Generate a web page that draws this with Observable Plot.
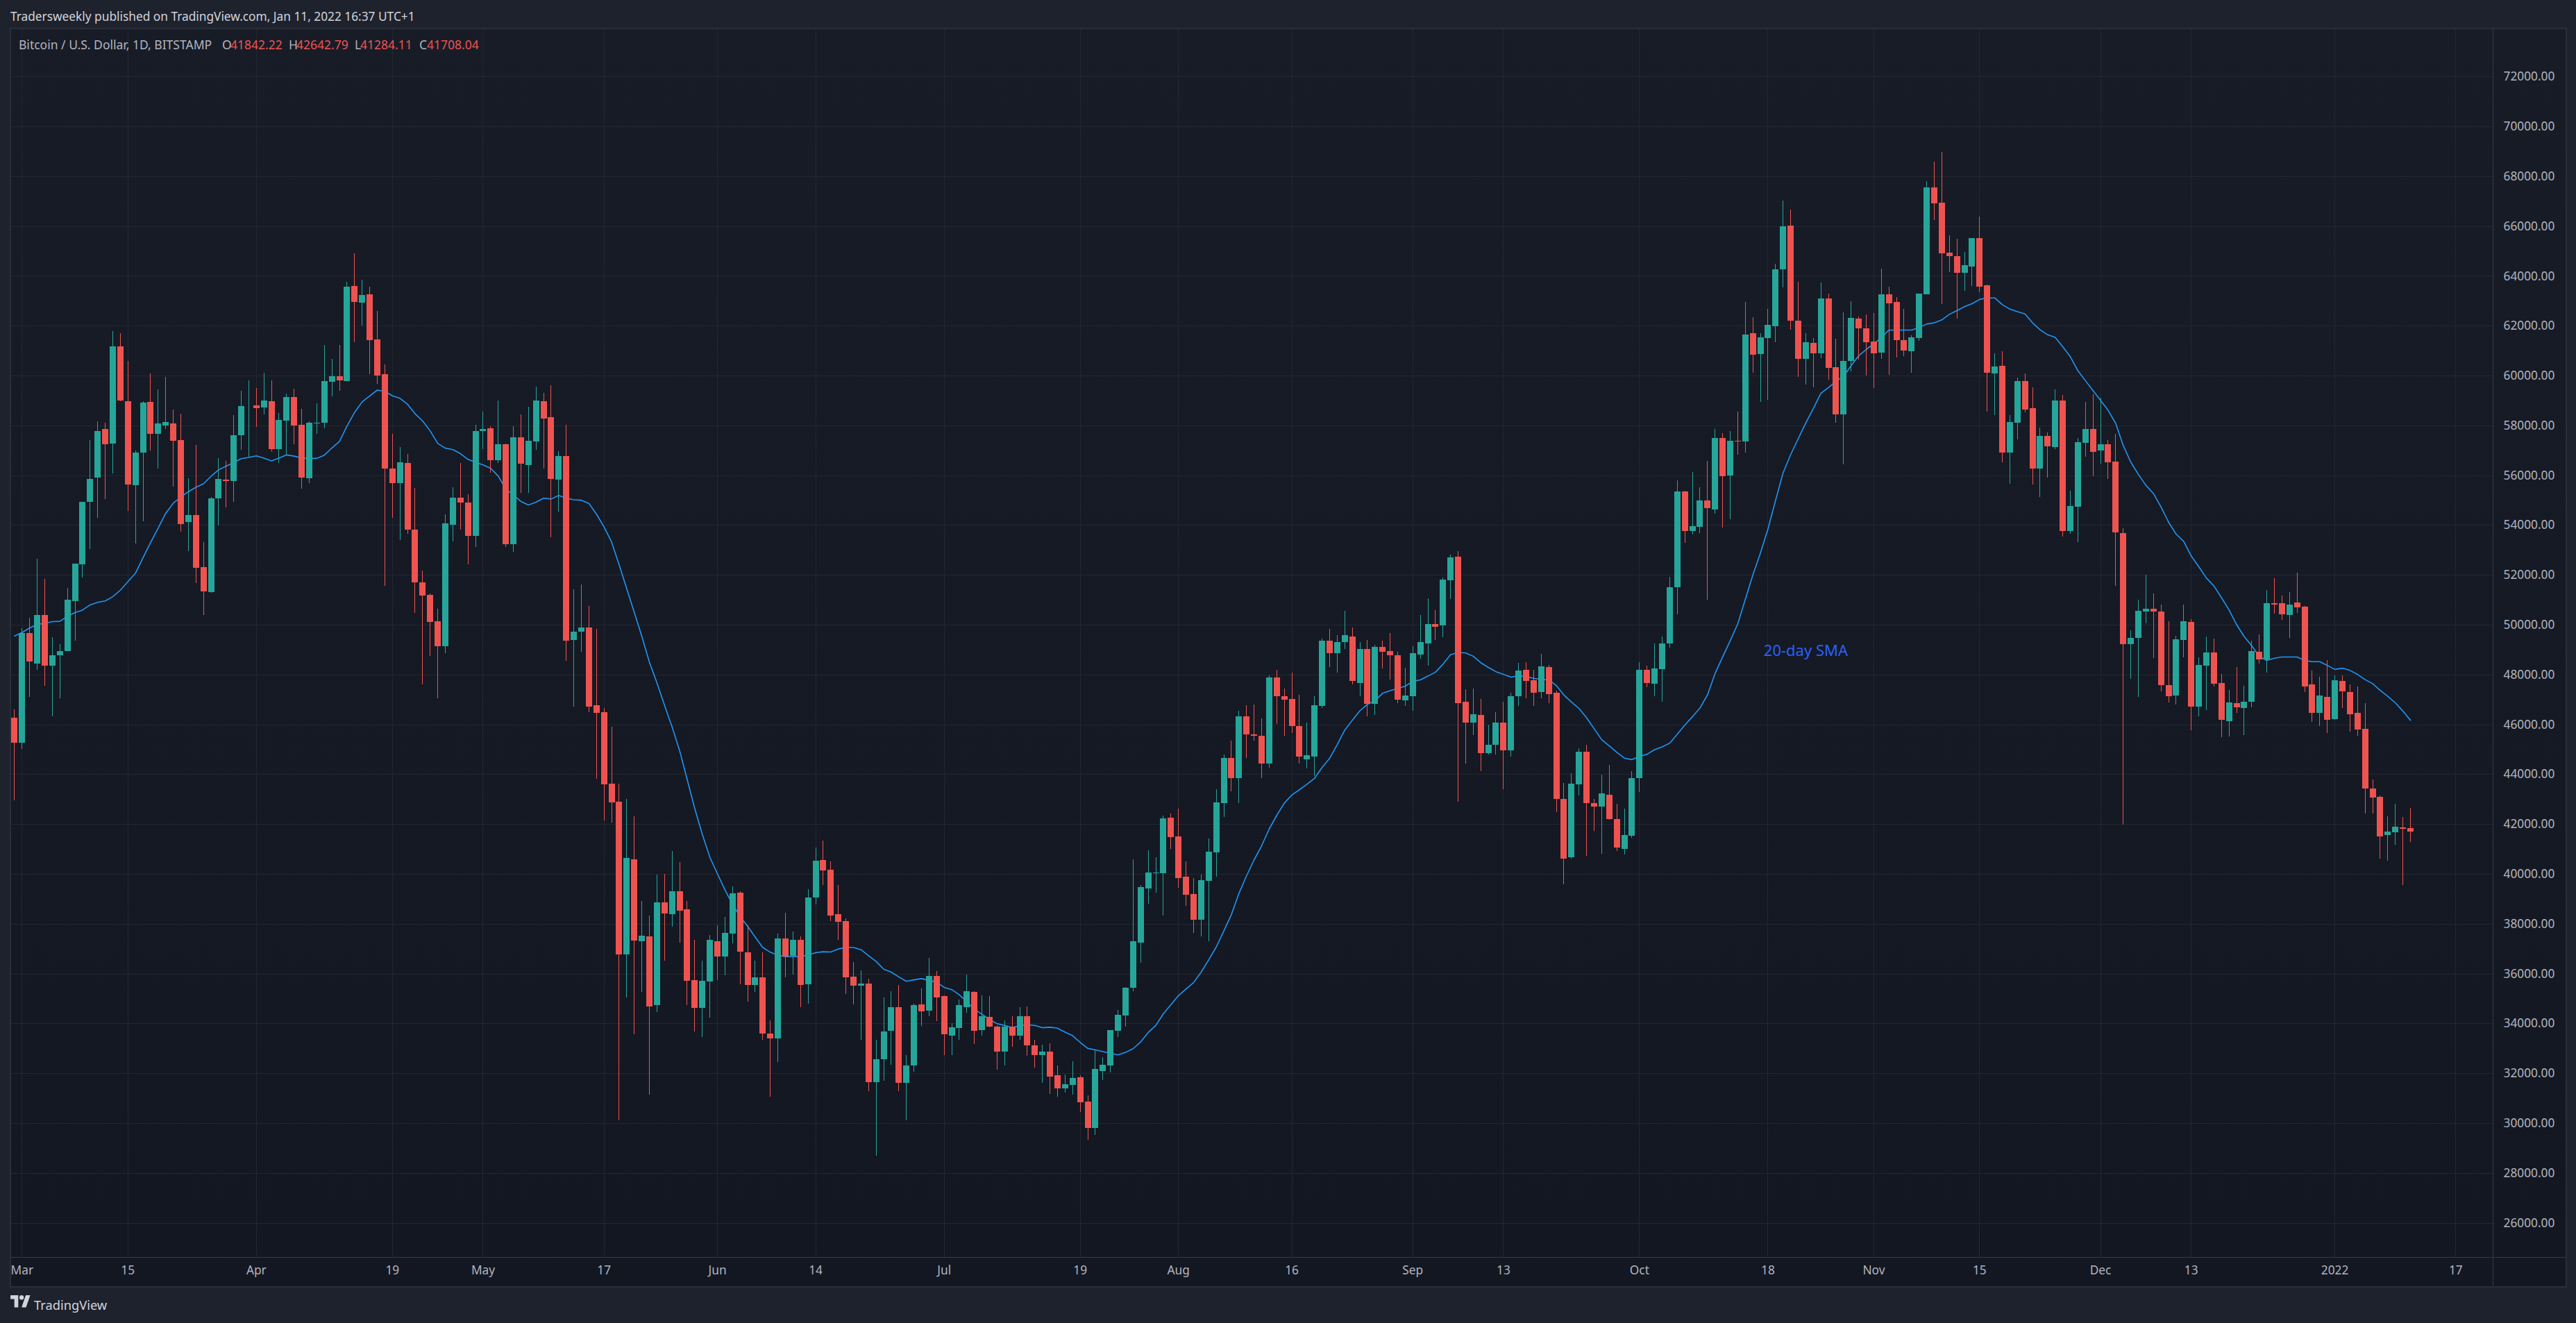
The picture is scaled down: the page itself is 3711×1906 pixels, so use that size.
<!DOCTYPE html>
<html>
<head>
<meta charset="utf-8">
<script src="https://cdn.jsdelivr.net/npm/d3@7"></script>
<script src="https://cdn.jsdelivr.net/npm/@observablehq/plot@0.6"></script>
<style>
html,body{margin:0;padding:0;width:3711px;height:1906px;overflow:hidden;background:#1e222d;font-family:"Noto Sans",sans-serif;}
#title{position:absolute;left:15px;top:10px;font-size:17.3px;line-height:28px;color:#d1d4dc;white-space:pre;}
#pane{position:absolute;left:15px;top:41px;width:3681px;height:1812px;background:linear-gradient(#181c27,#131722);}
#pane svg{position:absolute;left:0;top:0;}
#legend{position:absolute;left:27px;top:51px;height:26px;font-size:17.5px;line-height:26px;color:#b2b5be;white-space:pre;}
#legend b{font-weight:400;color:#ef5350;}
#legend span{position:absolute;top:0;}
.line{position:absolute;background:#363a45;}
#box{position:absolute;left:14px;top:40px;border:2px solid #2a2e39;box-sizing:content-box;width:3680px;height:1811px;pointer-events:none;}
#foot{position:absolute;left:15px;top:1866px;height:28px;color:#d1d4dc;font-size:18.3px;line-height:28px;}
#foot svg{position:absolute;left:0;top:0;}
#foot span{position:absolute;left:34px;top:0;white-space:pre;}
</style>
</head>
<body>
<div id="title">Tradersweekly published on TradingView.com, Jan 11, 2022 16:37 UTC+1</div>
<div id="pane"></div>
<div class="line" style="left:15px;top:1811px;width:3681px;height:1px"></div>
<div class="line" style="left:3591px;top:41px;width:1px;height:1812px"></div>
<div id="box"></div>
<div id="legend"><span style="left:0">Bitcoin / U.S. Dollar, 1D, BITSTAMP</span><span style="left:293px">O</span><span style="left:305px"><b>41842.22</b></span><span style="left:389px">H</span><span style="left:400px"><b>42642.79</b></span><span style="left:484px">L</span><span style="left:492px"><b>41284.11</b></span><span style="left:577px">C</span><span style="left:588px"><b>41708.04</b></span></div>
<div id="foot"><svg width="29" height="24" viewBox="0 4 36 30"><path fill="#d1d4dc" d="M14 26H7V11H0V4h14v22zM28 26h-8l7.5-22h8L28 26z"/><circle fill="#d1d4dc" cx="20" cy="8" r="4"/></svg><span>TradingView</span></div>
<script>
const firstDay = new Date(Date.UTC(2021,1,28));
const lastDay = new Date(Date.UTC(2022,0,12));
const axisStart = new Date(Date.UTC(2021,2,1));
const axisEnd = new Date(Date.UTC(2022,0,17));

const opens = [
46270,45270,49670,48440,50400,48360,48780,48940,50950,52420,
54920,55910,57870,57280,61170,58980,55610,56920,58950,57650,
58000,58090,57420,54110,54390,52300,51300,55060,55830,55770,
57610,58770,58800,58720,58980,57060,58200,59140,58030,55890,
58070,58110,59750,59980,59780,63590,62920,63250,61450,60060,
56280,55670,56500,53830,51710,51190,50150,49150,54000,55100,
54910,53570,57770,57880,56590,57240,53220,57530,56410,57360,
58970,58330,55820,56780,49400,49710,49900,46780,46480,43620,
42910,36780,40590,37310,37500,34720,38870,38370,39310,38590,
35730,34630,35670,37310,36690,37590,39250,36860,35530,35840,
33580,33410,37420,36710,37360,35560,39040,40570,40170,38370,
38110,35870,35500,35610,31630,32550,33690,34660,31600,32300,
34750,34500,35910,35090,33520,33810,34660,35270,33720,34250,
33880,32880,33860,33520,34280,33110,32740,32860,31910,31380,
31520,31830,30850,29800,32100,32300,33690,34310,35440,37250,
39420,40020,40030,42260,41510,39900,39180,38170,39730,40870,
42850,44640,43830,46310,45610,45550,44420,47870,47140,47030,
45940,44600,44720,46750,49350,48860,49290,49530,47670,49030,
46830,49120,48950,48780,46950,47120,48810,49250,50040,49960,
51790,52740,46920,46060,46390,44860,45170,46060,44970,47120,
48200,47780,47300,48310,47280,43020,40680,43580,44910,42850,
42690,43180,42190,41010,41520,43830,48200,47640,48230,49250,
51500,55350,53770,53920,54980,54630,57500,56000,57380,57360,
61700,60860,61510,61980,64270,66030,62210,60670,61310,60880,
63090,60340,58440,60590,62290,61900,61370,60920,63270,62960,
61430,60980,61510,63270,67550,66940,64930,64790,64130,64380,
65520,63620,60080,60400,56920,58110,59790,58690,56270,57580,
57130,59010,53760,54740,57300,57860,57000,57250,56550,53680,
49220,49470,50530,50640,50530,47570,47150,49390,50110,46710,
48350,48880,47660,46130,46850,46660,46910,48910,48610,50860,
50860,50380,50900,50720,47600,46460,47100,46210,47740,47300,
46460,45820,43420,43090,41560,41680,41870,41842.22];

const highs = [
46600,49860,50280,52660,51830,49490,49220,51490,52440,54940,
57420,58170,58110,61790,61700,60580,56980,58980,60090,59450,
59950,58640,58480,55890,57220,53310,55140,56700,56580,58420,
59390,59810,59500,60110,59810,58500,59270,59470,58660,58150,
58890,61230,60670,61230,63750,64900,63840,63570,62580,60440,
57650,57140,56860,55500,52170,51250,50630,54420,55520,56490,
55250,58030,58550,57980,59000,57280,57980,58430,58750,59560,
59300,59610,56970,58030,51430,51610,50750,49820,46660,45910,
43620,43020,42320,38900,38340,39980,40010,40930,40460,38920,
37360,36530,37560,37950,38280,39510,39300,37950,36530,36840,
34110,37590,38450,37700,37480,39390,41070,41340,40510,39560,
38220,36450,36140,35780,33330,35030,35300,35530,32740,34800,
35390,36640,36110,35120,34000,34960,35970,35290,35110,35090,
33920,34130,34280,34660,34690,33350,33140,33200,32300,31960,
32470,31910,31110,32910,32640,33720,34550,35470,40590,39560,
40960,40670,42350,42430,42620,40490,39820,39980,41430,43400,
44780,45360,46550,46780,46810,46250,47960,48200,47440,48090,
47200,46060,47140,49450,49840,49570,50570,49900,49290,49390,
49180,49350,49670,48920,48280,49150,50400,51070,50590,51900,
52820,52960,47400,47440,47030,46000,46500,46920,47280,48480,
48500,48200,48840,48390,47340,43660,44050,45030,45170,43020,
43970,44380,42800,42610,44120,48500,48360,49240,49530,51930,
55800,55380,56130,55510,56580,57850,57700,57780,58560,62960,
62350,61700,62680,64480,67020,66670,63760,61700,61510,63740,
63290,61470,62550,62980,62370,62450,62510,64290,63560,63150,
62680,61630,63290,67800,68570,68980,65630,65490,64970,65520,
66380,63640,60900,60980,58420,59910,60080,59530,57910,57720,
59440,59230,55380,57490,58950,59250,59120,57410,57660,53870,
49780,51010,52000,51250,50820,50140,49550,50800,50220,48690,
49520,49440,48020,47380,48300,47550,49360,49600,51390,51870,
51170,51310,52100,50760,48160,47900,48580,47970,47980,47600,
47520,46850,43780,43140,42320,42820,42270,42642.79];

const lows = [
42950,45000,47100,48200,47540,46330,47050,48940,49360,51890,
53030,54280,55030,56080,58980,54580,53260,54150,57000,56280,
57850,55540,53730,52940,51670,50380,51270,53970,54700,54920,
57030,56750,57950,58440,56950,56480,56820,57230,55450,55690,
57670,57890,59170,59380,59780,61340,62010,60060,59670,51550,
54280,53410,53650,50470,47600,48750,47060,48860,53330,53830,
52410,53120,57050,56100,56490,53110,52930,55300,55300,57010,
56270,53520,54550,48540,46700,48910,46480,43810,42140,42060,
30100,35030,33550,35270,31130,34460,36510,37870,37230,34720,
33670,33440,34220,35730,35940,37200,35580,34860,35270,33350,
31050,32440,35840,35970,34660,34800,38780,39540,38110,37360,
35170,34750,33350,31270,28700,31690,32330,31290,30100,32050,
33910,34280,34080,32720,32720,33350,34420,33170,33520,33830,
32130,32300,33050,33350,32690,32220,31600,31160,31050,31210,
31130,30440,29320,29520,31720,32020,33440,33880,35300,36420,
38810,39250,38340,41010,39450,38710,37640,37500,37310,39900,
42270,43320,42830,44660,45360,43830,44270,46020,45530,45660,
44440,44240,43930,46670,48310,48090,49030,47610,47120,46330,
46390,48250,47810,46860,46730,46550,48640,48360,49390,49510,
51040,42910,44440,45560,44130,44780,44780,43410,44720,46730,
47060,46730,47060,46860,42470,39590,40610,43140,40710,41720,
40820,42160,40910,40780,41440,43300,47480,47140,46920,49080,
50420,53280,53610,53690,51010,54450,53900,54240,56820,56900,
60120,58950,59030,61330,63540,61840,59950,59630,59520,60690,
59830,58110,56430,60160,60650,60000,59500,60670,60020,60730,
60790,60120,61390,63270,66240,62880,64150,62290,63410,63600,
63350,58560,58420,56520,55660,57440,58520,55620,55120,55900,
57050,53540,53650,53310,56750,55950,56460,55860,51550,41980,
47830,47110,50050,48660,47330,46880,46800,48690,45770,46320,
46580,47520,45490,45510,46460,45570,46690,48430,48070,50450,
50190,49470,50480,47300,46100,45940,45650,46190,46660,45710,
45540,42420,42420,40610,40530,41180,39550,41284.11];

const closes = [
45270,49670,48530,50400,48360,48780,48940,51000,52440,54940,
55860,57780,57250,61170,59000,55630,56920,58920,57650,58090,
58140,57370,54050,54390,52280,51330,55080,55860,55770,57610,
58780,58780,58700,59000,57060,58220,59140,58000,55910,58110,
58110,59780,59980,59810,63570,62950,63230,61430,60000,56280,
55670,56530,53810,51690,51160,50120,49150,54080,55100,54900,
53570,57770,57870,56600,57230,53220,57530,56450,57390,59000,
58280,55860,56780,49370,49710,49900,46700,46450,43590,42880,
36780,40650,37330,37530,34690,38870,38400,39310,38510,35700,
34630,35700,37360,36690,37620,39230,36890,35530,35840,33580,
33410,37420,36690,37360,35530,39040,40540,40150,38340,38090,
35840,35500,35610,31630,32570,33670,34660,31600,32300,34720,
34470,35910,35030,33550,33830,34720,35300,33690,34280,33880,
32880,33860,33520,34280,33110,32720,32860,31860,31380,31550,
31800,30820,29800,32160,32330,33720,34330,35440,37310,39480,
40060,40060,42240,41480,39820,39150,38170,39760,40900,42870,
44640,43850,46310,45610,45530,44440,47870,47120,47000,45920,
44700,44750,46780,49370,48860,49310,49570,47730,49030,46830,
49120,48920,48780,47000,47160,48860,49290,50040,49920,51820,
52700,46860,46080,46410,44860,45190,46060,44970,47120,48170,
47750,47280,48340,47220,43020,40600,43610,44910,42830,42710,
43220,42190,41050,41570,43850,48200,47670,48250,49250,51500,
55350,53770,53960,54980,54690,57500,55960,57380,57360,61650,
60840,61530,62040,64250,65990,62210,60670,61330,60900,63090,
60320,58440,60590,62310,61900,61330,60900,63270,62900,61430,
61000,61530,63290,67550,66900,64910,64790,64130,64440,65520,
63560,60120,60360,56900,58130,59790,58650,56270,57580,57170,
59010,53770,54770,57330,57860,56950,57250,56530,53710,49220,
49470,50560,50640,50530,47570,47120,49410,50140,46710,48390,
48880,47630,46180,46880,46690,46910,48940,48610,50860,50800,
50420,50800,50690,47520,46460,47150,46180,47780,47330,46400,
45790,43420,43060,41500,41700,41900,41820,41708.04];

const smaValues = [
49560,49700,49880,50030,50070,50140,50150,50350,50500,50600,
50810,50910,50970,51140,51400,51740,52080,52700,53310,53890,
54480,54890,55140,55350,55530,55670,55970,56230,56380,56520,
56680,56730,56790,56700,56590,56700,56830,56780,56700,56690,
56690,56820,57110,57370,57990,58540,58960,59200,59430,59380,
59200,59100,58860,58480,58190,57790,57290,57100,57040,56880,
56650,56530,56430,56290,55980,55460,55220,54960,54820,54930,
55090,55060,55200,55090,55030,55010,54880,54450,53940,53330,
52420,51460,50510,49550,48510,47680,46780,45920,44960,43800,
42640,41600,40680,40020,39370,38800,38300,37910,37480,37060,
36870,36750,36690,36690,36700,36760,36850,36890,36880,37000,
37060,37060,36970,36730,36500,36190,36070,35880,35700,35760,
35810,35740,35670,35460,35370,35160,34880,34570,34380,34170,
34000,33930,33850,33920,33960,33930,33840,33860,33820,33660,
33520,33250,33010,32950,32880,32810,32750,32850,33000,33270,
33650,33930,34400,34760,35130,35390,35650,36070,36560,37080,
37720,38380,39230,39930,40570,41140,41810,42360,42850,43180,
43390,43610,43850,44280,44650,45200,45780,46180,46560,46820,
46960,47260,47370,47450,47550,47740,47800,47950,48110,48430,
48810,48900,48880,48750,48490,48300,48130,48020,47910,47960,
47930,47860,47820,47800,47570,47190,46910,46650,46280,45840,
45400,45150,44890,44660,44600,44730,44815,45000,45110,45260,
45620,45990,46320,46670,47200,48060,48720,49370,50050,51030,
52010,52890,53860,55000,56110,56840,57480,58110,58690,59300,
59530,59790,59980,60410,60810,61060,61290,61530,61840,61840,
61840,61840,61940,62080,62130,62250,62470,62620,62780,62900,
63070,63130,63130,62860,62680,62580,62485,62130,61850,61650,
61550,61170,60770,60210,59810,59410,59020,58620,58100,57210,
56540,56050,55610,55280,54740,54130,53650,53360,52770,52340,
51890,51570,51100,50610,50020,49540,49170,48740,48580,48670,
48720,48720,48720,48580,48530,48530,48380,48220,48270,48180,
48020,47810,47650,47380,47140,46880,46550,46180];

const priceTicks = [26000,28000,30000,32000,34000,36000,38000,40000,42000,44000,46000,48000,50000,52000,54000,56000,58000,60000,62000,64000,66000,68000,70000,72000];
const tickDates = ["2021-03-01","2021-03-15","2021-04-01","2021-04-19","2021-05-01","2021-05-17","2021-06-01","2021-06-14","2021-07-01","2021-07-19","2021-08-01","2021-08-16","2021-09-01","2021-09-13","2021-10-01","2021-10-18","2021-11-01","2021-11-15","2021-12-01","2021-12-13","2022-01-01","2022-01-17"].map(d=>new Date(d+"T00:00:00Z"));
const tickLabels = ["Mar","15","Apr","19","May","17","Jun","14","Jul","19","Aug","16","Sep","13","Oct","18","Nov","15","Dec","13","2022","17"];
const annotation = [{date:new Date("2021-10-23T00:00:00Z"),price:48970,text:"20-day SMA"}];

const days = d3.utcDay.range(firstDay,lastDay);
const candles = days.map((date,i)=>({date,open:opens[i],high:highs[i],low:lows[i],close:closes[i],sma:smaValues[i]}));
const up="#26a69a", down="#ef5350", grid="#23272f";
const col = d=>d.close>=d.open?up:down;
const fontFamily='"Noto Sans",sans-serif';

const chart = Plot.plot({
  width:3681,height:1812,
  marginLeft:0,marginRight:104,marginTop:0,marginBottom:42,
  style:{background:"transparent",fontFamily,overflow:"visible"},
  x:{type:"utc",domain:[axisStart,axisEnd],range:[16.3,3522.3],label:null},
  y:{domain:[26000,72000],range:[1720.5,69.3],label:null},
  marks:[
    Plot.ruleY(priceTicks,{stroke:grid,strokeWidth:1,shapeRendering:"crispEdges"}),
    Plot.ruleX(tickDates,{stroke:grid,strokeWidth:1,shapeRendering:"crispEdges"}),
    Plot.lineY(candles,{x:"date",y:"sma",stroke:"#2196f3",strokeWidth:1.6,curve:"linear"}),
    Plot.ruleX(candles,{x:"date",y1:"low",y2:"high",stroke:col,strokeWidth:1,shapeRendering:"crispEdges"}),
    Plot.ruleX(candles,{x:"date",y1:"open",y2:"close",stroke:col,strokeWidth:9,shapeRendering:"crispEdges"}),
    Plot.text(annotation,{x:"date",y:"price",text:"text",fill:"#2962ff",fontSize:22,textAnchor:"middle"}),
    Plot.axisY({anchor:"right",ticks:priceTicks,tickFormat:d=>d.toFixed(2),tickSize:0,tickPadding:14,fontSize:17.3,color:"#b2b5be",label:null}),
    Plot.axisX({anchor:"bottom",ticks:tickDates,tickFormat:d=>tickLabels[tickDates.findIndex(t=>+t===+d)],tickSize:0,tickPadding:12,fontSize:17.3,color:"#b2b5be",label:null})
  ]
});
document.getElementById("pane").appendChild(chart);
</script>
</body>
</html>
